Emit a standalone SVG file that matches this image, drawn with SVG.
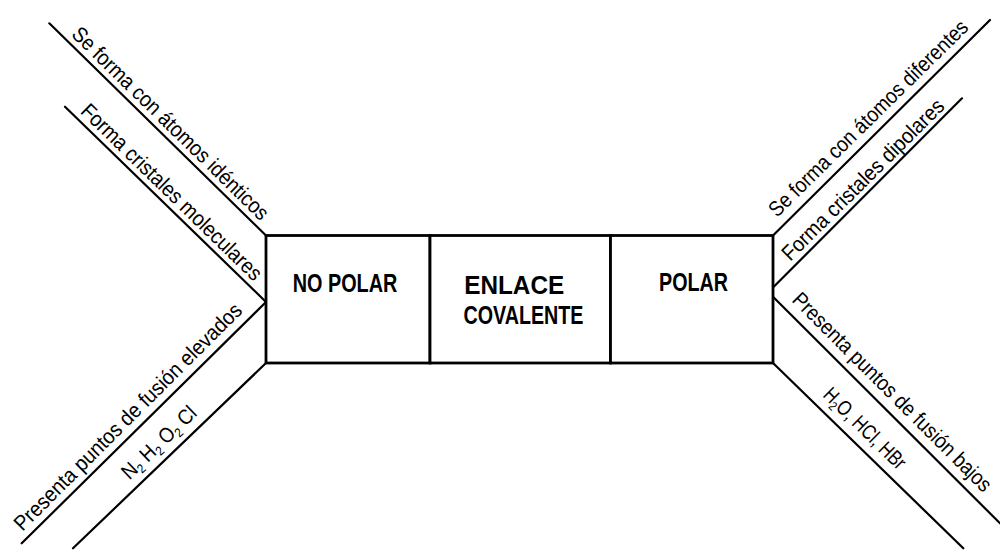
<svg xmlns="http://www.w3.org/2000/svg" width="1000" height="550" viewBox="0 0 1000 550">
<style>
.ln{stroke:#000;stroke-width:2.2;fill:none;stroke-linecap:round}
.cell{fill:#fff;stroke:#000;stroke-width:2.8}
.t{font-family:"Liberation Sans",Arial,Helvetica,sans-serif;font-size:21.5px;fill:#000}
.b{font-family:"Liberation Sans",Arial,Helvetica,sans-serif;font-weight:bold;font-size:25px;fill:#000}
</style>
<rect x="0" y="0" width="1000" height="550" fill="#fff"/>
<g id="connectors">
<path class="ln" d="M49.3 23.3 L266 235.5"/>
<path class="ln" d="M65 106.7 L266 302"/>
<path class="ln" d="M266 302 L21.7 543.3"/>
<path class="ln" d="M266 363 L73 548.3"/>
<path class="ln" d="M773 235.5 L990 20"/>
<path class="ln" d="M773 287.5 L962 98.3"/>
<path class="ln" d="M773 296.7 L1000 523.3"/>
<path class="ln" d="M773 363 L963.3 548.3"/>
</g>
<g id="no-polar">
<rect class="cell" x="266" y="235.5" width="164" height="127.5"/>
<text class="b" x="292.7" y="291.7" textLength="104.6" lengthAdjust="spacingAndGlyphs">NO POLAR</text>
</g>
<g id="enlace-covalente">
<rect class="cell" x="430" y="235.5" width="180.5" height="127.5"/>
<text class="b" x="464.2" y="294" textLength="100" lengthAdjust="spacingAndGlyphs">ENLACE</text>
<text class="b" x="463.5" y="324.3" textLength="120" lengthAdjust="spacingAndGlyphs">COVALENTE</text>
</g>
<g id="polar">
<rect class="cell" x="610.5" y="235.5" width="162.5" height="127.5"/>
<text class="b" x="659" y="291.3" textLength="69" lengthAdjust="spacingAndGlyphs">POLAR</text>
</g>
<g id="labels">
<text class="t" transform="translate(70.5 35.5) rotate(44.4)" textLength="266" lengthAdjust="spacingAndGlyphs">Se forma con átomos idénticos</text>
<text class="t" transform="translate(79.5 112.5) rotate(44.2)" textLength="243" lengthAdjust="spacingAndGlyphs">Forma cristales moleculares</text>
<text class="t" transform="translate(22.5 532) rotate(-44.9)" textLength="312" lengthAdjust="spacingAndGlyphs">Presenta puntos de fusión elevados</text>
<text class="t" transform="translate(129.5 480.5) rotate(-43.8) scale(0.9 1)" style="font-size:21px">N<tspan dy="4" style="font-size:13px">2</tspan><tspan dy="-4"> H</tspan><tspan dy="4" style="font-size:13px">2</tspan><tspan dy="-4"> O</tspan><tspan dy="4" style="font-size:13px">2</tspan><tspan dy="-4"> Cl</tspan></text>
<text class="t" transform="translate(777 218) rotate(-44.5)" textLength="270" lengthAdjust="spacingAndGlyphs">Se forma con átomos diferentes</text>
<text class="t" transform="translate(790.2 262) rotate(-44.8)" textLength="219" lengthAdjust="spacingAndGlyphs">Forma cristales dipolares</text>
<text class="t" transform="translate(791 301) rotate(45)" textLength="272" lengthAdjust="spacingAndGlyphs">Presenta puntos de fusión bajos</text>
<text class="t" transform="translate(822 396) rotate(44.5) scale(0.8 1)" style="font-size:21px">H<tspan dy="4" style="font-size:13px">2</tspan><tspan dy="-4">O, HCl, HBr</tspan></text>
</g>
</svg>
